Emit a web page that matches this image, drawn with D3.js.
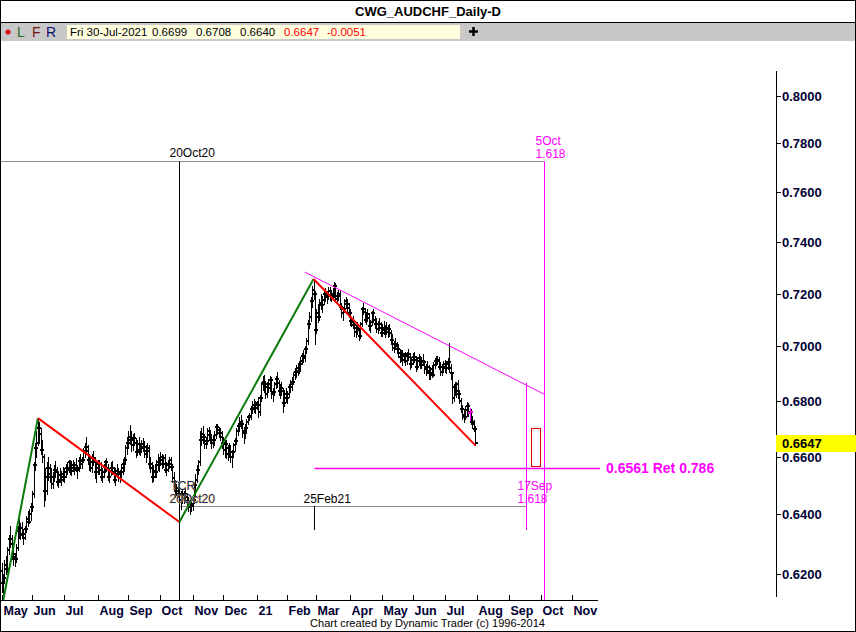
<!DOCTYPE html>
<html><head><meta charset="utf-8">
<script src="https://cdn.jsdelivr.net/npm/d3@7"></script>
<style>body{margin:0;background:#fff;}svg{display:block;font-family:"Liberation Sans",Arial,sans-serif;}</style>
</head><body><svg id="c" width="856" height="632"></svg>
<script>
// ---- DATA (prices x 10000), one row per month, daily bars May-2020 .. Jul-2021 ----
const firstBarDate = "2020-05-01";
const opens = [
6210,6170,6185,6230,6215,6280,6315,6300,6265,6255,6250,6285,6345,6330,6355,6335,6320,6350,6385,6375,6400,
6425,6470,6570,6630,6650,6700,6680,6625,6600,6480,6530,6560,6540,6530,6505,6530,6555,6545,6510,6535,6520,6540,
6530,6545,6560,6555,6580,6550,6570,6560,6570,6555,6560,6585,6575,6590,6620,6635,6620,6590,6580,6560,6595,6580,6545,
6560,6575,6555,6530,6545,6565,6580,6560,6530,6550,6560,6545,6520,6550,6540,6525,6545,6560,6575,6590,6630,
6650,6670,6660,6640,6665,6650,6615,6645,6625,6630,6645,6635,6610,6620,6630,6575,6560,6530,6550,6545,6580,6570,
6590,6600,6575,6595,6555,6570,6575,6590,6565,6525,6510,6480,6490,6470,6450,6465,6455,6470,6460,6445,6425,6435,
6430,6450,6500,6520,6555,6580,6660,6680,6670,6645,6655,6690,6675,6660,6650,6660,6675,6705,6695,6685,6670,
6650,6625,6645,6610,6630,6615,6600,6615,6640,6655,6690,6710,6725,6715,6690,6685,6700,6725,6740,6745,6770,6785,6775,
6790,6785,6760,6810,6860,6870,6850,6825,6860,6845,6875,6825,6830,6860,6880,6865,6835,6845,6835,6790,6825,
6810,6825,6850,6860,6870,6895,6905,6920,6910,6935,6945,6965,6955,6990,7020,7085,7110,7170,7215,7200,
7060,7125,7110,7165,7155,7175,7200,7185,7195,7210,7190,7200,7195,7230,7180,7190,7200,7150,7125,7140,7170,7160,7145,
7125,7095,7090,7080,7055,7070,7060,7040,7085,7140,7130,7100,7120,7105,7075,7090,7125,7100,7085,7065,7085,7070,
7050,7070,7060,7070,7055,7065,7050,7025,6995,7010,7000,6990,6975,6960,6970,6950,6965,6945,6970,6960,6935,
6950,6960,6950,6925,6945,6955,6930,6945,6940,6915,6925,6910,6900,6915,6895,6930,6945,6950,6945,6925,6905,6925,
6935,6920,6935,6940,6920,6900,6810,6850,6835,6860,6825,6800,6770,6750,6740,6765,6780,6755,6760,6725,6715,6699];
const highs = [
6235,6200,6245,6260,6290,6330,6360,6330,6290,6270,6300,6360,6385,6370,6375,6350,6360,6395,6410,6420,6440,
6480,6580,6650,6690,6737,6725,6700,6660,6610,6560,6580,6600,6575,6560,6545,6570,6585,6565,6550,6560,6550,6565,
6560,6575,6580,6590,6590,6580,6590,6580,6595,6570,6600,6610,6600,6630,6650,6670,6640,6610,6600,6610,6620,6600,6580,
6590,6590,6580,6560,6575,6590,6595,6575,6560,6580,6585,6565,6560,6575,6560,6555,6575,6590,6600,6640,6670,
6690,6712,6690,6680,6685,6665,6660,6670,6650,6660,6665,6655,6640,6650,6640,6600,6580,6570,6575,6590,6610,6600,
6615,6610,6605,6610,6580,6590,6600,6600,6575,6545,6520,6505,6510,6490,6480,6485,6480,6490,6475,6460,6450,6460,
6460,6510,6540,6570,6590,6690,6700,6710,6680,6670,6700,6705,6695,6680,6675,6690,6715,6715,6705,6700,6690,
6670,6660,6660,6640,6650,6640,6625,6650,6665,6700,6720,6740,6750,6730,6705,6715,6735,6750,6755,6780,6800,6805,6800,
6800,6815,6820,6870,6890,6895,6865,6870,6880,6890,6885,6845,6870,6890,6905,6875,6860,6870,6845,6840,6845,
6835,6860,6875,6885,6905,6920,6930,6935,6945,6960,6975,6985,7000,7030,7100,7130,7185,7230,7256,7210,
7140,7160,7180,7200,7190,7215,7220,7210,7225,7225,7215,7220,7245,7240,7205,7215,7210,7165,7150,7180,7185,7180,7165,
7140,7110,7115,7095,7080,7090,7070,7090,7150,7165,7145,7130,7140,7125,7100,7135,7140,7115,7105,7095,7105,7090,
7085,7095,7080,7090,7080,7085,7060,7045,7020,7030,7015,7010,6990,6985,6985,6975,6980,6980,6990,6975,6960,
6975,6980,6965,6960,6970,6965,6960,6970,6950,6935,6945,6930,6925,6930,6940,6955,6965,6965,6960,6940,6935,6945,
6950,6945,6955,7012,6935,6905,6860,6870,6870,6875,6840,6810,6785,6770,6780,6795,6790,6775,6770,6745,6730,6708];
const lows = [
6140,6135,6175,6200,6205,6265,6290,6250,6230,6225,6240,6280,6320,6315,6320,6300,6315,6340,6360,6370,6380,
6410,6460,6555,6600,6640,6650,6610,6580,6430,6450,6470,6520,6510,6490,6490,6515,6530,6500,6495,6510,6500,6515,
6510,6530,6540,6545,6540,6535,6550,6540,6550,6525,6550,6560,6560,6580,6600,6610,6575,6555,6550,6545,6570,6525,6510,
6540,6540,6520,6510,6530,6545,6550,6520,6510,6535,6540,6510,6500,6530,6515,6510,6530,6540,6550,6580,6610,
6630,6645,6620,6625,6640,6600,6605,6610,6605,6615,6620,6600,6580,6600,6560,6545,6510,6515,6530,6530,6555,6550,
6570,6560,6565,6545,6535,6550,6560,6555,6510,6495,6460,6465,6460,6430,6420,6440,6440,6450,6430,6410,6400,6410,
6415,6440,6460,6510,6540,6570,6640,6650,6630,6630,6645,6660,6650,6630,6635,6640,6665,6680,6670,6660,6630,
6610,6600,6595,6590,6600,6580,6565,6600,6620,6645,6675,6690,6700,6670,6650,6665,6690,6715,6730,6735,6755,6760,6755,
6770,6740,6750,6800,6840,6830,6810,6815,6830,6835,6810,6800,6820,6845,6850,6820,6810,6820,6760,6780,6795,
6790,6815,6830,6840,6860,6880,6885,6895,6900,6915,6935,6940,6945,6975,7010,7070,7095,7150,7180,7010,
7050,7090,7100,7140,7130,7160,7170,7165,7180,7175,7170,7180,7185,7170,7165,7175,7140,7110,7100,7130,7145,7130,7110,
7080,7075,7070,7040,7035,7045,7025,7030,7075,7120,7090,7085,7095,7060,7055,7080,7090,7070,7055,7050,7060,7040,
7040,7045,7035,7045,7035,7040,7010,6985,6980,6990,6975,6960,6940,6945,6930,6940,6930,6935,6950,6915,6925,
6935,6940,6910,6915,6935,6920,6920,6930,6900,6895,6900,6880,6880,6885,6890,6920,6930,6935,6915,6895,6895,6905,
6905,6900,6915,6905,6880,6790,6800,6820,6815,6810,6790,6760,6735,6725,6735,6745,6745,6730,6715,6700,6690,6640];
const closes = [
6170,6185,6230,6215,6280,6315,6300,6265,6255,6250,6285,6345,6330,6355,6335,6320,6350,6385,6375,6400,6425,
6470,6570,6630,6650,6700,6680,6625,6600,6480,6530,6560,6540,6530,6505,6530,6555,6545,6510,6535,6520,6540,6530,
6545,6560,6555,6580,6550,6570,6560,6570,6555,6560,6585,6575,6590,6620,6635,6620,6590,6580,6560,6595,6580,6545,6560,
6575,6555,6530,6545,6565,6580,6560,6530,6550,6560,6545,6520,6550,6540,6525,6545,6560,6575,6590,6630,6650,
6670,6660,6640,6665,6650,6615,6645,6625,6630,6645,6635,6610,6620,6630,6575,6560,6530,6550,6545,6580,6570,6590,
6600,6575,6595,6555,6570,6575,6590,6565,6525,6510,6480,6490,6470,6450,6465,6455,6470,6460,6445,6425,6435,6430,
6450,6500,6520,6555,6580,6660,6680,6670,6645,6655,6690,6675,6660,6650,6660,6675,6705,6695,6685,6670,6650,
6625,6645,6610,6630,6615,6600,6615,6640,6655,6690,6710,6725,6715,6690,6685,6700,6725,6740,6745,6770,6785,6775,6790,
6785,6760,6810,6860,6870,6850,6825,6860,6845,6875,6825,6830,6860,6880,6865,6835,6845,6835,6790,6825,6810,
6825,6850,6860,6870,6895,6905,6920,6910,6935,6945,6965,6955,6990,7020,7085,7110,7170,7215,7200,7060,
7125,7110,7165,7155,7175,7200,7185,7195,7210,7190,7200,7195,7230,7180,7190,7200,7150,7125,7140,7170,7160,7145,7125,
7095,7090,7080,7055,7070,7060,7040,7085,7140,7130,7100,7120,7105,7075,7090,7125,7100,7085,7065,7085,7070,7050,
7070,7060,7070,7055,7065,7050,7025,6995,7010,7000,6990,6975,6960,6970,6950,6965,6945,6970,6960,6935,6950,
6960,6950,6925,6945,6955,6930,6945,6940,6915,6925,6910,6900,6915,6895,6930,6945,6950,6945,6925,6905,6925,6935,
6920,6935,6940,6920,6900,6810,6850,6835,6860,6825,6800,6770,6750,6740,6765,6780,6755,6760,6725,6715,6699,6647];
const highlightBarDate = "2021-07-26";

const monthLabels = ["May","Jun","Jul","Aug","Sep","Oct","Nov","Dec","21","Feb","Mar","Apr","May","Jun","Jul","Aug","Sep","Oct","Nov"];
const yTicks = [0.62,0.64,0.66,0.68,0.70,0.72,0.74,0.76,0.78,0.80];
const yTickLabels = ["0.6200","0.6400","0.6600","0.6800","0.7000","0.7200","0.7400","0.7600","0.7800","0.8000"];
const lastPrice = 0.6647;
const lastPriceLabel = "0.6647";
const headerItems = ["Fri 30-Jul-2021","0.6699","0.6708","0.6640","0.6647","-0.0051"];

// analysis lines [date, price]
const greenUp1 = [["2020-05-04",0.6108],["2020-06-05",0.6737]];
const redDown1 = [["2020-06-05",0.6737],["2020-10-20",0.6374]];
const greenUp2 = [["2020-10-20",0.6374],["2021-02-25",0.7256]];
const redDown2 = [["2021-02-25",0.7256],["2021-07-30",0.6640]];
const trendTop = [["2021-02-17",0.7283],["2021-10-05",0.6824]];
const topTimeLevel = 0.7727;
const lowTimeLevel = 0.6429;
const retLevel = 0.6561;
const retLabel = "0.6561 Ret 0.786";
const box = [["2021-09-22",0.6700],["2021-09-30",0.6565]];
const sep17Range = [0.6865,0.6347];
const feb25Tick = [0.6429,0.6347];

// ---- DRAW ----
const svg = d3.select("#c");
const navy = "#000033", mag = "#ff00ff";
const cal = d3.timeDay.range(new Date(2020,3,27), new Date(2021,11,1)).filter(d => d.getDay()%6 !== 0);
const fmt = d3.timeFormat("%Y-%m-%d");
const base = cal.findIndex(d => fmt(d) === firstBarDate);
const days = cal.slice(base);
const idxOf = new Map(days.map((d,i) => [fmt(d), i]));
const I = s => idxOf.get(s);
const nBars = closes.length;

const x = d3.scaleLinear().domain([0, 325]).range([1.5, 475.4]);
const y = d3.scaleLog().domain([0.62, 0.80]).range([573.9, 96]);
const px = v => v/10000;
const X = s => x(I(s));
const cr = v => Math.round(v) + 0.5;

svg.append("rect").attr("x",0.5).attr("y",0.5).attr("width",855).attr("height",631).attr("fill","#fff").attr("stroke","#000");
svg.append("text").attr("x",428).attr("y",16).attr("text-anchor","middle").attr("font-weight","bold").attr("font-size",13).text("CWG_AUDCHF_Daily-D");
svg.append("line").attr("x1",0).attr("x2",856).attr("y1",22.5).attr("y2",22.5).attr("stroke","#000");
svg.append("rect").attr("x",1).attr("y",23).attr("width",854).attr("height",18).attr("fill","#c8c8c8");
svg.append("circle").attr("cx",8).attr("cy",32).attr("r",2.5).attr("fill","#e00000");
[["L",17,"#2a6a2a"],["F",32,"#7a1010"],["R",46,"#10106a"]].forEach(([t,xx,c]) =>
  svg.append("text").attr("x",xx).attr("y",37).attr("font-size",14).attr("fill",c).text(t));
svg.append("rect").attr("x",67).attr("y",25).attr("width",393).attr("height",14).attr("fill","#ffffe0");
const hx = [70,152,196,240,284,327];
headerItems.forEach((t,k) => svg.append("text").attr("x",hx[k]).attr("y",36).attr("font-size",11.5)
  .attr("fill", k>=4 ? "#ff0000" : "#000").text(t));
svg.append("path").attr("d","M469,31.5H478M473.5,27V36").attr("stroke","#000").attr("stroke-width",2.5);

svg.append("line").attr("x1",0.5).attr("x2",0.5).attr("y1",41).attr("y2",600).attr("stroke","#000");
svg.append("defs").append("clipPath").attr("id","pc").append("rect").attr("x",1).attr("y",41).attr("width",774).attr("height",559);
const g = svg.append("g").attr("clip-path","url(#pc)");

const xOct20 = cr(X("2020-10-20")), xOct5 = cr(X("2021-10-05")), xSep17 = cr(X("2021-09-17")), xFeb25 = cr(X("2021-02-25"));
g.append("line").attr("x1",1).attr("x2",xOct5).attr("y1",cr(y(topTimeLevel))).attr("y2",cr(y(topTimeLevel))).attr("stroke","#8c8c8c");
g.append("line").attr("x1",xOct20).attr("x2",xSep17).attr("y1",cr(y(lowTimeLevel))).attr("y2",cr(y(lowTimeLevel))).attr("stroke","#8c8c8c");
g.append("line").attr("x1",xOct20).attr("x2",xOct20).attr("y1",cr(y(topTimeLevel))).attr("y2",600).attr("stroke","#000");
g.append("line").attr("x1",xFeb25).attr("x2",xFeb25).attr("y1",y(feb25Tick[0])).attr("y2",y(feb25Tick[1])).attr("stroke","#000");
g.append("line").attr("x1",xOct5).attr("x2",xOct5).attr("y1",cr(y(topTimeLevel))).attr("y2",600).attr("stroke",mag);
g.append("line").attr("x1",xSep17).attr("x2",xSep17).attr("y1",y(sep17Range[0])).attr("y2",y(sep17Range[1])).attr("stroke",mag);
g.append("line").attr("x1",xFeb25).attr("x2",600).attr("y1",cr(y(retLevel))).attr("y2",cr(y(retLevel))).attr("stroke",mag).attr("stroke-width",1.5);
g.append("rect").attr("x",cr(X(box[0][0]))).attr("y",cr(y(box[0][1]))).attr("width",Math.round(X(box[1][0])-X(box[0][0])))
  .attr("height",Math.round(y(box[1][1])-y(box[0][1]))).attr("fill","none").attr("stroke","#e00000");

// OHLC bars: 1px body line + 2px-thick open/close ticks
const bars = g.append("g").attr("shape-rendering","crispEdges");
const drawBar = (i, c) => {
  const xi = Math.round(x(i));
  bars.append("path").attr("d", `M${xi+0.5},${Math.round(y(px(highs[i])))}V${Math.round(y(px(lows[i])))+1}`)
    .attr("stroke", c).attr("stroke-width", 1.3).attr("fill","none");
  bars.append("path").attr("d", `M${xi-2},${Math.round(y(px(opens[i])))}H${xi+1}M${xi},${Math.round(y(px(closes[i])))}H${xi+3}`)
    .attr("stroke", c).attr("stroke-width", 2).attr("fill","none");
};
const hi = I(highlightBarDate);
d3.range(nBars).forEach(i => { if (i !== hi) drawBar(i, "#000"); });
drawBar(hi, mag);

const lineGen = d3.line().x(d => X(d[0])).y(d => y(d[1]));
[[greenUp1,"#0a7a0a"],[redDown1,"#ff0000"],[greenUp2,"#0a7a0a"],[redDown2,"#ff0000"]].forEach(([pts,c]) =>
  g.append("path").attr("d",lineGen(pts)).attr("stroke",c).attr("stroke-width",2).attr("fill","none"));
g.append("path").attr("d",lineGen(trendTop)).attr("stroke",mag).attr("stroke-width",1).attr("fill","none");

const lab = (t,xx,yy,c,extra) => { const s = svg.append("text").attr("x",xx).attr("y",yy).attr("font-size",12).attr("fill",c).text(t); if (extra) extra(s); return s; };
lab("20Oct20", xOct20-10, 157, "#000");
lab("TCR", xOct20-9, 490, "#1c2a78", s => s.attr("stroke","#f2cf5a").attr("stroke-width",0.7).attr("paint-order","stroke"));
lab("20Oct20", xOct20-10, 503, "#1c2a78", s => s.attr("stroke","#f2cf5a").attr("stroke-width",0.7).attr("paint-order","stroke"));
lab("25Feb21", xFeb25-11, 503, "#000");
lab("17Sep", xSep17-9, 490, mag);
lab("1.618", xSep17-9, 503, mag);
lab("5Oct", xOct5-9, 145, mag);
lab("1.618", xOct5-9, 158, mag);
svg.append("text").attr("x",606).attr("y",473).attr("font-size",14).attr("font-weight","bold").attr("fill",mag).text(retLabel);

svg.append("line").attr("x1",776.5).attr("x2",776.5).attr("y1",71).attr("y2",597).attr("stroke","#000");
yTicks.forEach((v,k) => {
  const yy = cr(y(v));
  svg.append("line").attr("x1",776).attr("x2",781).attr("y1",yy).attr("y2",yy).attr("stroke","#000");
  svg.append("text").attr("x",782).attr("y",yy+4.5).attr("font-size",13).attr("font-weight","bold").attr("fill",navy).text(yTickLabels[k]);
});
const ly = y(lastPrice);
svg.append("rect").attr("x",776).attr("y",Math.round(ly-8.5)).attr("width",80).attr("height",17).attr("fill","#ffff00");
svg.append("text").attr("x",782).attr("y",ly+4.5).attr("font-size",13).attr("font-weight","bold").attr("fill","#000").text(lastPriceLabel);

svg.append("line").attr("x1",0).attr("x2",598).attr("y1",600.5).attr("y2",600.5).attr("stroke","#000");
const monthStarts = [];
days.forEach((d,i) => { if (i === 0 || d.getMonth() !== days[i-1].getMonth()) monthStarts.push(i); });
monthStarts.slice(0, monthLabels.length).forEach((i,k) => {
  const xx = cr(x(i));
  svg.append("line").attr("x1",xx).attr("x2",xx).attr("y1",595).attr("y2",600).attr("stroke","#000");
  svg.append("text").attr("x",xx+1).attr("y",615).attr("font-size",12.5).attr("font-weight","bold").attr("fill",navy).text(monthLabels[k]);
});
svg.append("text").attr("x",310).attr("y",627).attr("font-size",11).attr("textLength",235).attr("lengthAdjust","spacingAndGlyphs")
  .text("Chart created by Dynamic Trader  (c) 1996-2014");

if ([opens,highs,lows].some(a => a.length !== nBars)) {
  svg.append("text").attr("x",20).attr("y",80).attr("fill","red").text("len mismatch " + [opens.length,highs.length,lows.length,closes.length].join(","));
}
</script></body></html>
